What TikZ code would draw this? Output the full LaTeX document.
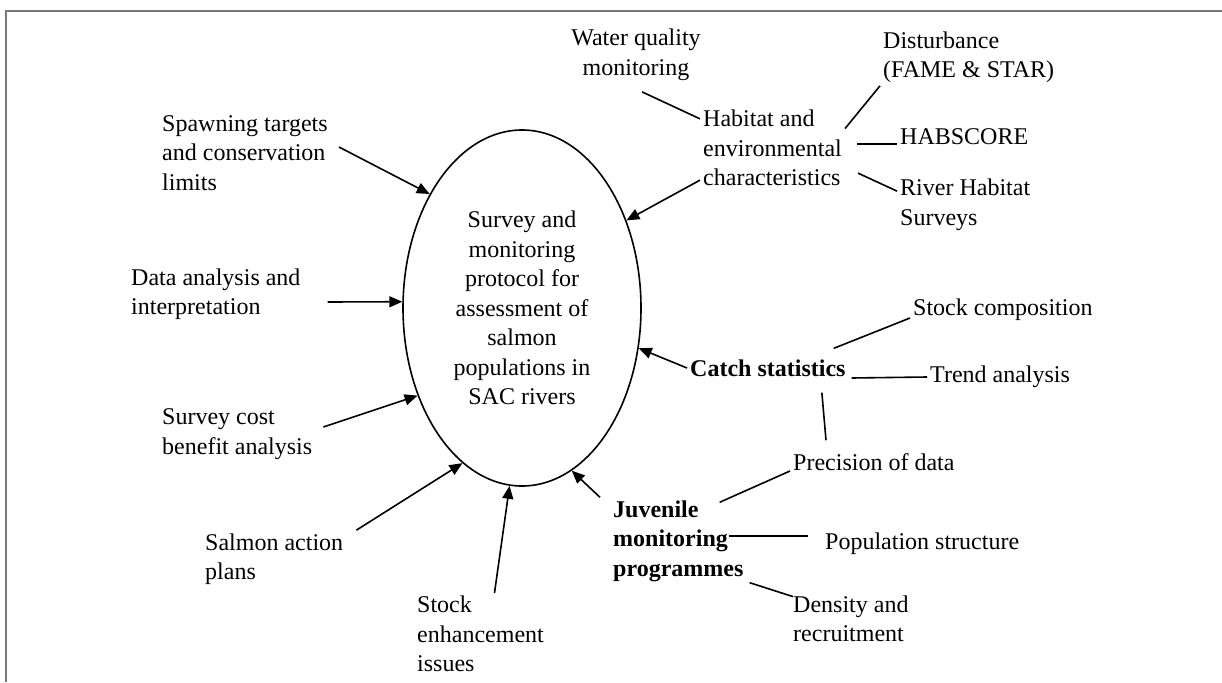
\documentclass[tikz,border=0pt]{standalone}
\usepackage{fontspec}
\setmainfont{Liberation Serif}
\usetikzlibrary{positioning,shapes.geometric,arrows.meta}
\definecolor{framegray}{RGB}{120,120,120}

\begin{document}
\begin{tikzpicture}[
            x=1pt, y=-1pt,
            lbl/.style={anchor=west, align=left, inner sep=3pt,
                       font=\fontsize{24}{29.5}\selectfont},
            boldlbl/.style={lbl, font=\fontsize{24}{29.5}\selectfont\bfseries},
            arrow/.style={-{Triangle[length=13pt,width=11pt]}, line width=1.6pt},
            link/.style={line width=1.6pt}
        ]
            \useasboundingbox (0,0) rectangle (1222,682);
            % Frame
            \draw[framegray, line width=2pt] (6,682) -- (6,11) -- (1222,11);

            % Central protocol
            \node[ellipse, draw, line width=1.6pt, minimum width=238pt, minimum height=356pt,
                  inner sep=0pt, align=center, font=\fontsize{24}{29.5}\selectfont]
                  (protocol) at (522,308)
                  {Survey and\\monitoring\\protocol for\\assessment of\\salmon\\populations in\\SAC rivers};

            % Left side inputs
            \node[lbl] (spawn) at (159,153) {Spawning targets\\and conservation\\limits};
            \node[lbl] (data) at (128,294) {Data analysis and\\interpretation};
            \node[lbl] (cost) at (159,434) {Survey cost\\benefit analysis};
            \node[lbl] (sap) at (202,559) {Salmon action\\plans};
            \node[lbl] (enhance) at (414,634) {Stock\\enhancement\\issues};

            % Right side inputs
            \node[boldlbl] (juvenile) at (610,541) {Juvenile\\monitoring\\programmes};
            \node[boldlbl] (catch) at (687,368) {Catch statistics};
            \node[lbl] (habitat) at (700,148) {Habitat and\\environmental\\characteristics};

            % Habitat details
            \node[lbl, anchor=center, align=center] (water) at (636,55) {Water quality\\monitoring};
            \node[lbl] (disturb) at (880,57) {Disturbance\\(FAME \& STAR)};
            \node[lbl] (habscore) at (897,137) {HABSCORE};
            \node[lbl] (rhs) at (897,205) {River Habitat\\Surveys};

            % Catch and juvenile details
            \node[lbl] (stockcomp) at (910,310) {Stock composition};
            \node[lbl] (trend) at (927,377) {Trend analysis};
            \node[lbl] (precision) at (790,462) {Precision of data};
            \node[lbl] (popstruct) at (822,544) {Population structure};
            \node[lbl] (density) at (790,619) {Density and\\recruitment};

            % Arrows into the protocol
            \draw[arrow] ([xshift=8pt,yshift=6pt]spawn.east) -- (protocol.129);
            \draw[arrow] ([xshift=24pt,yshift=-8pt]data.east) -- (protocol.177);
            \draw[arrow] ([xshift=8pt,yshift=7pt]cost.east) -- (protocol.220);
            \draw[arrow] ([xshift=10pt]sap.north east) -- (protocol.249);
            \draw[arrow] ([xshift=14pt]enhance.north) -- (protocol.266);
            \draw[arrow] ([xshift=-10pt]juvenile.north west) -- (protocol.287);
            \draw[arrow] (catch.west) -- (protocol.341);
            \draw[arrow] ([yshift=9pt]habitat.south west) -- (protocol.40);

            % Habitat links
            \draw[link] ([xshift=6pt,yshift=-8pt]water.south) -- ([yshift=-12pt]habitat.north west);
            \draw[link] (habitat.15) -- (disturb.south west);
            \draw[link] ([xshift=12pt,yshift=4pt]habitat.east) -- ([yshift=-7pt]habscore.west);
            \draw[link] ([xshift=13pt,yshift=16pt]habitat.south east) -- ([yshift=-15pt]rhs.north west);

            % Catch links
            \draw[link] ([xshift=-15pt,yshift=8pt]catch.north east) -- ([yshift=-8pt]stockcomp.west);
            \draw[link] ([xshift=3pt,yshift=-10pt]catch.east) -- (trend.west);
            \draw[link] ([xshift=54pt,yshift=-13pt]catch.south) -- ([xshift=36pt,yshift=10pt]precision.north west);

            % Juvenile links
            \draw[link] ([xshift=-27pt,yshift=-5pt]juvenile.north east) -- ([yshift=-9pt]precision.west);
            \draw[link] ([xshift=-18pt,yshift=5pt]juvenile.east) -- ([xshift=-14pt,yshift=8pt]popstruct.west);
            \draw[link] ([xshift=3pt,yshift=2pt]juvenile.south east) -- ([xshift=3pt,yshift=-4pt]density.north west);
        \end{tikzpicture}
\end{document}
